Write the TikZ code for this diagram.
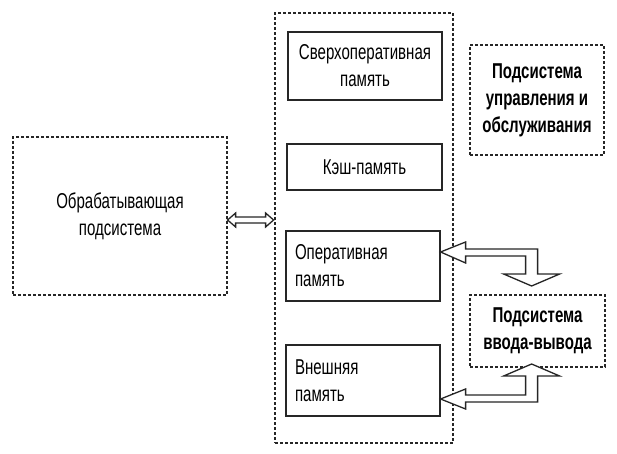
\documentclass[tikz,border=0pt]{standalone}
\usepackage{fontspec}
\setmainfont{Liberation Sans}[FakeStretch=0.7]
\usepackage{tikz}
\tikzstyle{sub} = [draw=black!85, line width=1.2pt, dash pattern=on 3pt off 2pt, inner sep=0pt, align=center]
\tikzstyle{mem} = [draw=black!85, line width=1.2pt, inner sep=0pt, align=center]
\tikzstyle{memleft} = [mem, align=left, text width=136pt, inner xsep=9pt]
\tikzstyle{hollow} = [draw=black!85, line width=1.3pt, fill=white, line join=miter]
\tikzstyle{txt} = [font=\fontsize{21.5}{27}\selectfont]
\tikzstyle{bold} = [font=\fontsize{21.5}{27}\selectfont\bfseries]

\begin{document}
\begin{tikzpicture}[x=1pt,y=-1pt]
    \useasboundingbox (0,0) rectangle (617,454);
    \node[sub,txt,minimum width=214pt,minimum height=158pt](proc) at (120,216){Обрабатывающая\\подсистема};
    \node[sub,minimum width=178pt,minimum height=430pt](mem) at (364,228){};
    \node[mem,txt,minimum width=154pt,minimum height=68pt](sverh) at (365,66){Сверхоперативная\\память};
    \node[mem,txt,minimum width=155pt,minimum height=46pt](kesh) at (364.5,167){Кэш-память};
    \node[memleft,txt,minimum width=154pt,minimum height=70pt](oper) at (363,266){Оперативная\\память};
    \node[memleft,txt,minimum width=154pt,minimum height=71pt](vnesh) at (363,380.5){Внешняя\\память};
    \node[sub,bold,minimum width=134pt,minimum height=110pt](upr) at (537,100){Подсистема\\управления и\\обслуживания};
    \node[sub,bold,minimum width=135pt,minimum height=72pt](io) at (537.5,331){Подсистема\\ввода-вывода};
    \draw[hollow]([yshift=-4pt]proc.east) -- ++(8,-7) -- ++(0,4) -- ++(30,0) -- ++(0,-4) -- ++(8,7)
        -- ++(-8,7) -- ++(0,-4) -- ++(-30,0) -- ++(0,4) -- cycle;
    \draw[hollow]([yshift=14pt]oper.east) -- ++(25,-10) -- ++(0,7) -- ++(72,0) -- ++(0,25) -- ++(22,0)
        -- ++(-28,12) -- ++(-28,-12) -- ++(22,0) -- ++(0,-18) -- ++(-60,0) -- ++(0,7) -- cycle;
    \draw[hollow]([yshift=-18.5pt]vnesh.east) -- ++(25,-10) -- ++(0,6) -- ++(60,0) -- ++(0,-19) -- ++(-22,0)
        -- ++(28,-12) -- ++(28,12) -- ++(-22,0) -- ++(0,26) -- ++(-72,0) -- ++(0,7) -- cycle;
  \end{tikzpicture}
\end{document}
